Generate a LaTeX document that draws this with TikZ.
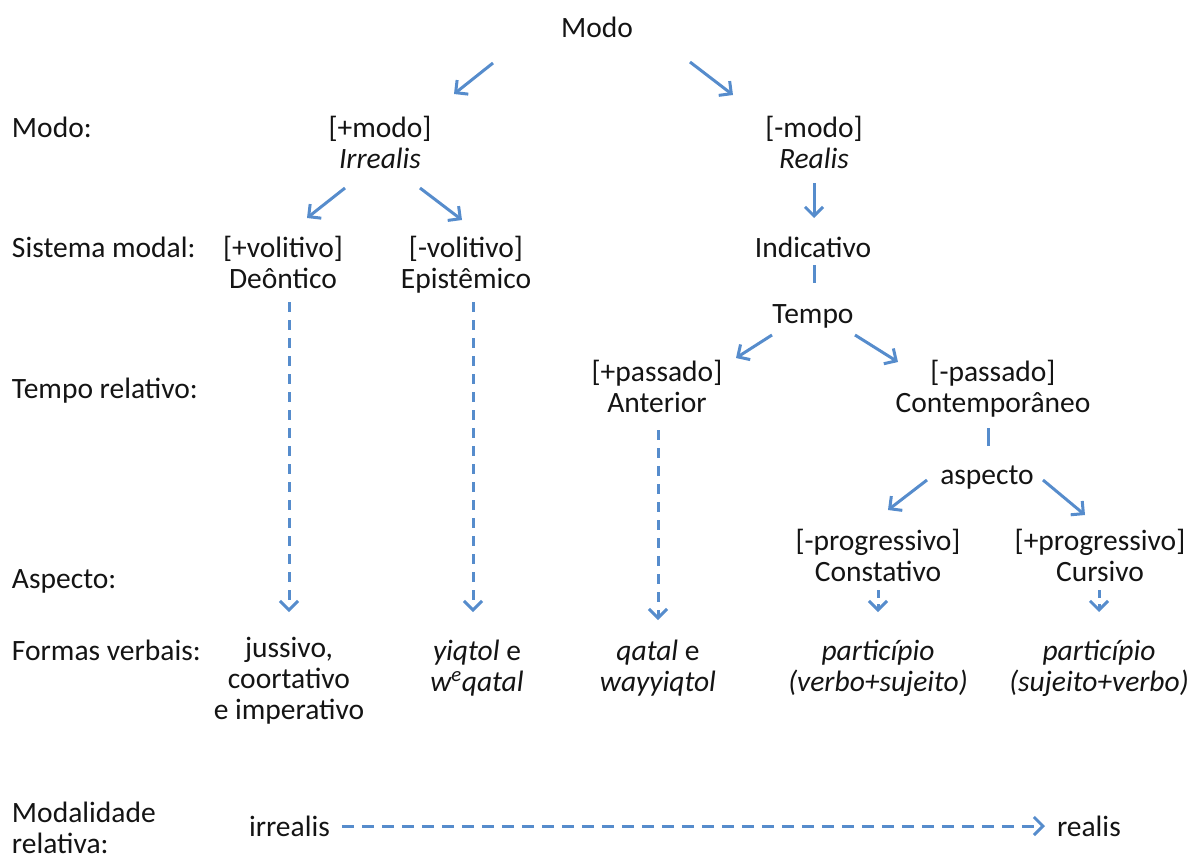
\documentclass[tikz,border=0pt]{standalone}
\usepackage{fontspec}
\setmainfont{Carlito}
\usetikzlibrary{arrows.meta}
\definecolor{linkblue}{RGB}{86,140,204}
\definecolor{ink}{RGB}{20,20,20}
\begin{document}
\begin{tikzpicture}[x=1pt,y=-1pt,
  every node/.style={inner sep=0pt,outer sep=0pt,text=ink,
    font=\fontsize{29.5}{31}\selectfont},
  lbl/.style={anchor=base west},
  term/.style={anchor=base,align=center},
  arr/.style={draw=linkblue,line width=3pt,
    -{Straight Barb[length=9pt,width=18pt,line width=3pt]}},
  dasharr/.style={arr,dash pattern=on 10pt off 8pt},
  joint/.style={draw=linkblue,line width=3pt}]
\useasboundingbox (0,0) rectangle (1195,860);

% row labels
\node[lbl] (rowmodo) at (12,137) {Modo:};
\node[lbl] (rowsis) at (12,257) {Sistema modal:};
\node[lbl] (rowtempo) at (12,398) {Tempo relativo:};
\node[lbl] (rowasp) at (12,588) {Aspecto:};
\node[lbl] (rowformas) at (12,660) {Formas verbais:};
\node[lbl,align=left] (rowrel) at (12,853) {Modalidade\\relativa:};

% tree (multi-line nodes sit on the baseline of their last line)
\node[term] (top) at (597,37) {Modo};
\node[term] (irr) at (380,168) {[+modo]\\\textit{Irrealis}};
\node[term] (rea) at (814,168) {[-modo]\\\textit{Realis}};
\node[term] (deo) at (283,288) {[+volitivo]\\Deôntico};
\node[term] (epi) at (466,288) {[-volitivo]\\Epistêmico};
\node[term] (ind) at (813,257) {Indicativo};
\node[term] (tempo) at (813,323) {Tempo};
\node[term] (ant) at (657,412) {[+passado]\\Anterior};
\node[term] (con) at (993,412) {[-passado]\\Contemporâneo};
\node[term] (asp) at (987,484) {aspecto};
\node[term] (cst) at (878,581) {[-progressivo]\\Constativo};
\node[term] (cur) at (1100,581) {[+progressivo]\\Cursivo};

% verb forms
\node[term] (fdeo) at (289,719) {jussivo,\\coortativo\\e imperativo};
\node[term] (fepi) at (477,691) {\textit{yiqtol} e\\\textit{w\textsuperscript{e}qatal}};
\node[term] (fant) at (658,691) {\textit{qatal} e\\\textit{wayyiqtol}};
\node[term] (fcst) at (878,691) {\textit{particípio}\\\textit{(verbo+sujeito)}};
\node[term] (fcur) at (1099,691) {\textit{particípio}\\\textit{(sujeito+verbo)}};

% relative modality scale
\node[lbl] (irrb) at (249,836) {irrealis};
\node[lbl] (reab) at (1057,836) {realis};

% connectors
\draw[arr] ([shift={(-104,26)}]top.base) -- ([shift={(74,-74)}]irr.base);
\draw[arr] ([shift={(93,25)}]top.base) -- ([shift={(-81,-73)}]rea.base);
\draw[arr] ([shift={(-35,20)}]irr.base) -- ([shift={(24,-70)}]deo.base);
\draw[arr] ([shift={(40,20)}]irr.base) -- ([shift={(-4,-68)}]epi.base);
\draw[arr] ([shift={(0,15)}]rea.base) -- ([shift={(1,-39)}]ind.base);
\draw[joint] ([shift={(1,8)}]ind.base) -- ([shift={(1,-40)}]tempo.base);
\draw[arr] ([shift={(-41,12)}]tempo.base) -- ([shift={(79,-54)}]ant.base);
\draw[arr] ([shift={(42,12)}]tempo.base) -- ([shift={(-95,-50)}]con.base);
\draw[dasharr] ([shift={(6,14)}]deo.base) -- ([shift={(0,-107)}]fdeo.base);
\draw[dasharr] ([shift={(7,14)}]epi.base) -- ([shift={(-4,-79)}]fepi.base);
\draw[dasharr] ([shift={(1,18)}]ant.base) -- ([shift={(0,-71)}]fant.base);
\draw[joint] ([shift={(-5,16)}]con.base) -- ([shift={(1,-38)}]asp.base);
\draw[arr] ([shift={(-60,-4)}]asp.base) -- ([shift={(10,-71)}]cst.base);
\draw[arr] ([shift={(56,-4)}]asp.base) -- ([shift={(-15,-66)}]cur.base);
\draw[dasharr,dash pattern=on 8pt off 6pt] ([shift={(0,9)}]cst.base) -- ([shift={(0,-79)}]fcst.base);
\draw[dasharr,dash pattern=on 8pt off 6pt] ([shift={(-1,9)}]cur.base) -- ([shift={(0,-79)}]fcur.base);
\draw[dasharr,dash pattern=on 12pt off 8pt] ([shift={(12,-10)}]irrb.base east) -- ([shift={(-12,-10)}]reab.base west);
\end{tikzpicture}
\end{document}
